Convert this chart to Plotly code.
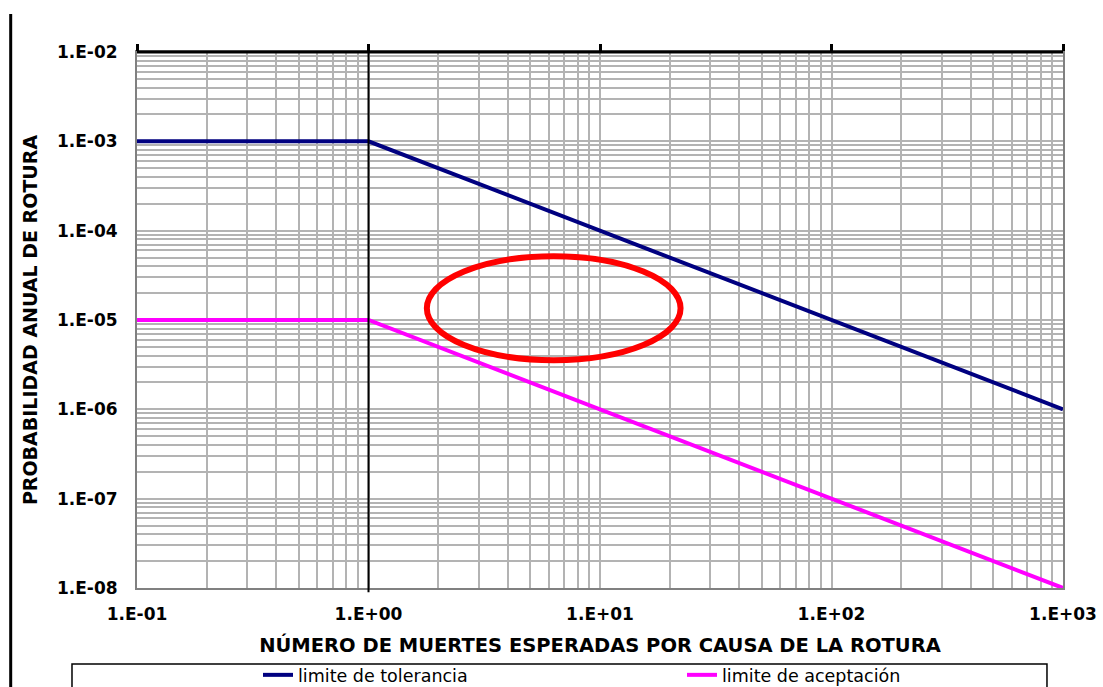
import plotly.graph_objects as go

# ---- data ----
x_deaths = [0.1, 1, 1000]
tolerance = [1e-3, 1e-3, 1e-6]
acceptance = [1e-5, 1e-5, 1e-8]

x_tickvals = [0.1, 1, 10, 100, 1000]
x_ticktext = ["1.E-01", "1.E+00", "1.E+01", "1.E+02", "1.E+03"]
y_tickvals = [1e-2, 1e-3, 1e-4, 1e-5, 1e-6, 1e-7, 1e-8]
y_ticktext = ["1.E-02", "1.E-03", "1.E-04", "1.E-05", "1.E-06", "1.E-07", "1.E-08"]

x_title = "NÚMERO DE MUERTES ESPERADAS POR CAUSA DE LA ROTURA"
y_title = "PROBABILIDAD ANUAL DE ROTURA"
name_tol = "limite de tolerancia"
name_acc = "limite de aceptación"

GRID = "#b3b3b3"
FONT = "DejaVu Sans"

x_minor = [k * 10.0 ** e for e in range(-1, 3) for k in range(2, 10)]
y_minor = [k * 10.0 ** e for e in range(-8, -2) for k in range(2, 10)]

fig = go.Figure()
fig.add_trace(go.Scatter(x=x_deaths, y=tolerance, mode="lines", name=name_tol,
                         line=dict(color="#000080", width=4), legend="legend"))
fig.add_trace(go.Scatter(x=x_deaths, y=acceptance, mode="lines", name=name_acc,
                         line=dict(color="#ff00ff", width=4), legend="legend2"))
# invisible trace to host the top axis
fig.add_trace(go.Scatter(x=[x_tickvals[0]], y=[y_tickvals[0]], xaxis="x2", mode="markers",
                         marker=dict(opacity=0), showlegend=False, hoverinfo="skip"))

legend_common = dict(orientation="h", xref="container", yref="container",
                     xanchor="left", y=0.0175, yanchor="middle",
                     font=dict(family=FONT, size=17.5, color="black"),
                     bgcolor="rgba(0,0,0,0)", borderwidth=0)

fig.update_layout(
    width=1103, height=687,
    margin=dict(l=137, r=40, t=52, b=99, autoexpand=False),
    paper_bgcolor="white", plot_bgcolor="white",
    showlegend=True,
    legend=dict(x=258 / 1103, **legend_common),
    legend2=dict(x=682 / 1103, **legend_common),
    xaxis=dict(type="log", range=[-1, 3], tickvals=x_tickvals, ticktext=x_ticktext,
               showgrid=True, gridcolor=GRID, gridwidth=2,
               minor=dict(tickvals=x_minor, showgrid=True, gridcolor=GRID, gridwidth=2),
               showline=True, linecolor="#808080", linewidth=2, mirror=True,
               ticks="", ticklabelstandoff=10, automargin=False,
               tickfont=dict(family=FONT, size=17, color="black", weight="bold"),
               title=dict(text=x_title, standoff=22,
                          font=dict(family=FONT, size=19.5, color="black", weight="bold")),
               zeroline=False),
    xaxis2=dict(type="log", range=[-1, 3], overlaying="x", side="top", anchor="y",
                tickvals=x_tickvals, showticklabels=False, ticks="outside", ticklen=7,
                tickwidth=3, tickcolor="black", showline=False,
                showgrid=False, zeroline=False, automargin=False),
    yaxis=dict(type="log", range=[-8, -2], tickvals=y_tickvals, ticktext=y_ticktext,
               showgrid=True, gridcolor=GRID, gridwidth=2,
               minor=dict(tickvals=y_minor, showgrid=True, gridcolor=GRID, gridwidth=2),
               showline=True, linecolor="#808080", linewidth=2, mirror=True,
               ticks="", ticklabelstandoff=14, automargin=False,
               tickfont=dict(family=FONT, size=17, color="black", weight="bold"),
               title=dict(text=y_title, standoff=14,
                          font=dict(family=FONT, size=19, color="black", weight="bold")),
               zeroline=False),
    shapes=[
        # top axis line
        dict(type="line", xref="paper", yref="paper", x0=0, x1=1, y0=1, y1=1,
             line=dict(color="black", width=3), layer="above"),
        # y axis crossing line at x = 1
        dict(type="line", xref="paper", yref="paper", x0=0.25, x1=0.25, y0=-0.008, y1=1.012,
             line=dict(color="black", width=2), layer="above"),
        # red highlight ellipse
        dict(type="circle", xref="paper", yref="paper", x0=0.313, x1=0.587, y0=0.425, y1=0.619,
             line=dict(color="#ff0000", width=6), layer="above"),
        # legend box
        dict(type="rect", xref="paper", yref="paper", x0=-0.0702, x1=0.9827, y0=-0.3, y1=-0.142,
             line=dict(color="black", width=1.5)),
        # left frame line
        dict(type="line", xref="paper", yref="paper", x0=-0.1364, x1=-0.1364, y0=-0.3, y1=1.071,
             line=dict(color="black", width=3)),
    ],
)

fig.write_html("out.html")
